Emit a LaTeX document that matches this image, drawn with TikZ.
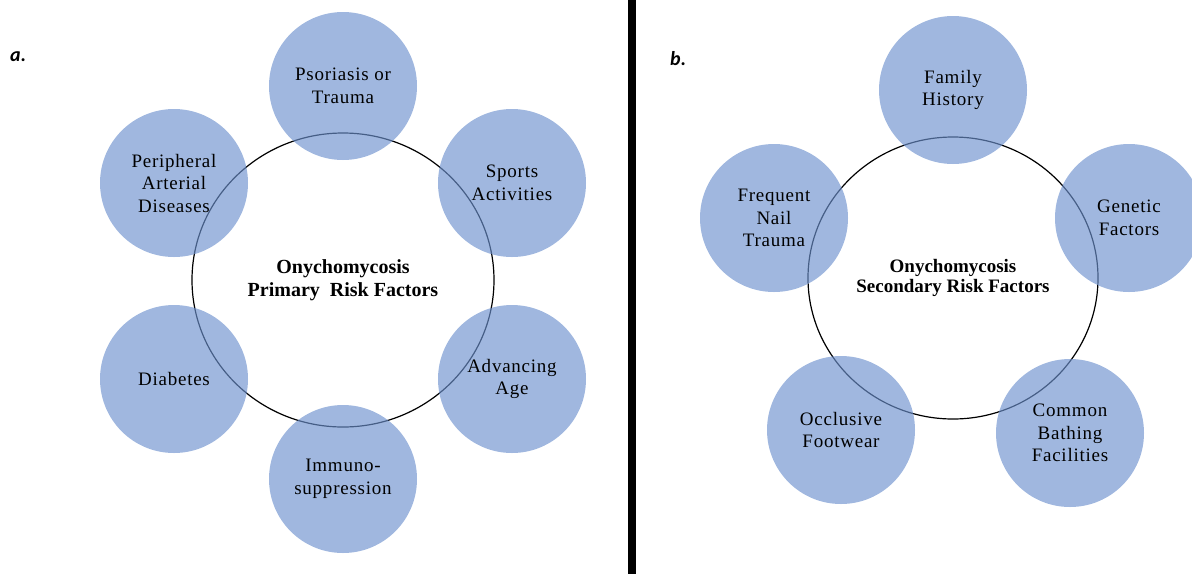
\documentclass[tikz,border=0pt]{standalone}
\usepackage{fontspec}
\setmainfont{Liberation Serif}
\newfontfamily\circfont[LetterSpace=4]{Liberation Serif}
\newfontfamily\tagfont{Carlito}
\usepackage{tikz}
\usetikzlibrary{positioning, shapes}
\definecolor{factorfill}{RGB}{109,145,206}
\tikzset{font=\circfont\fontsize{19}{22.5}\selectfont}
\tikzstyle{factor} = [circle, fill=factorfill, fill opacity=0.65, text opacity=1, minimum size=148pt, inner sep=0pt, align=center]
\tikzstyle{hub}    = [ellipse, draw, line width=1.2pt, inner sep=0pt, align=center, font=\bfseries\fontsize{20}{23}\selectfont]
\tikzstyle{tag}    = [anchor=base west, inner sep=0pt, font=\tagfont\bfseries\itshape\fontsize{20}{24}\selectfont]

\begin{document}
\begin{tikzpicture}[x=1pt, y=-1pt, node distance=1cm]
	\useasboundingbox (0,0) rectangle (1192,574);
	\clip (0,0) rectangle (1192,574);
	\fill (628,0) rectangle (636,574);
	\node [tag] (taga) at (10,61) {a.};
	\node [tag] (tagb) at (670,65) {b.};

	\node [hub, minimum width=302pt, minimum height=294pt] (primary) at (343,280) {Onychomycosis\\Primary\ \ Risk Factors};
	\node [factor, above of=primary, node distance=194pt] (psor) {Psoriasis or\\Trauma};
	\node [factor, left of=primary, node distance=169pt, yshift=97pt] (pad) {Peripheral\\Arterial\\Diseases};
	\node [factor, right of=primary, node distance=169pt, yshift=97pt] (sport) {Sports\\Activities};
	\node [factor, left of=primary, node distance=169pt, yshift=-99pt] (diab) {Diabetes};
	\node [factor, right of=primary, node distance=169pt, yshift=-99pt] (age) {Advancing\\Age};
	\node [factor, below of=primary, node distance=199pt] (immuno) {Immuno-\\suppression};

	\node [hub, minimum width=290pt, minimum height=282pt, font=\bfseries\fontsize{19}{19.5}\selectfont] (secondary) at (953,278) {Onychomycosis\\Secondary Risk Factors};
	\node [factor, above of=secondary, node distance=188pt] (family) {Family\\History};
	\node [factor, left of=secondary, node distance=179pt, yshift=60pt] (nail) {Frequent\\Nail\\Trauma};
	\node [factor, right of=secondary, node distance=176pt, yshift=60pt] (genetic) {Genetic\\Factors};
	\node [factor, below of=secondary, node distance=152pt, xshift=-112pt] (shoe) {Occlusive\\Footwear};
	\node [factor, below of=secondary, node distance=155pt, xshift=117pt] (bath) {Common\\Bathing\\Facilities};
\end{tikzpicture}
\end{document}
